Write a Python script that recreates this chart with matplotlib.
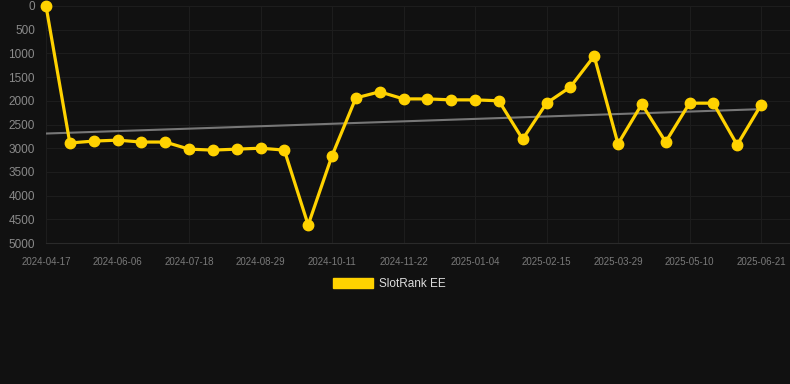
import numpy as np
import matplotlib
matplotlib.use("Agg")
from matplotlib import pyplot as plt
from matplotlib.patches import Patch

# rank values, one per snapshot (lower = better, axis inverted)
ranks = [0, 2890, 2850, 2830, 2870, 2870, 3020, 3040, 3020, 3000, 3040,
         4620, 3160, 1940, 1810, 1960, 1960, 1980, 1980, 2000, 2810,
         2050, 1710, 1055, 2910, 2070, 2870, 2050, 2050, 2930, 2090]
tick_labels = ["2024-04-17", "2024-06-06", "2024-07-18", "2024-08-29",
               "2024-10-11", "2024-11-22", "2025-01-04", "2025-02-15",
               "2025-03-29", "2025-05-10", "2025-06-21"]
series_name = "SlotRank EE"

bg = "#111111"
gold = "#FFD200"

plt.rcParams['font.family'] = ['Liberation Sans', 'DejaVu Sans']

x = np.arange(len(ranks))
fig = plt.figure(figsize=(7.9, 3.84), dpi=100, facecolor=bg)
ax = fig.add_axes([46 / 790, 1 - 243 / 384, 744 / 790, 237 / 384])
ax.set_facecolor(bg)

# trend line from a linear fit
k, b = np.polyfit(x, ranks, 1)
ax.plot(x, k * x + b, color="#777777", lw=1.5, zorder=2)

ax.plot(x, ranks, color=gold, lw=2.3, marker="o", markersize=7.5,
        clip_on=False, zorder=3)

ax.set_ylim(5000, 0)
ax.set_yticks(range(0, 5001, 500))
ax.set_xlim(0, 30 * 744 / 715)
ax.set_xticks(x[::3])
ax.set_xticklabels(tick_labels)

ax.grid(True, color="#1d1d1d", lw=0.8)
for s in ax.spines.values():
    s.set_visible(False)
ax.spines["bottom"].set_visible(True)
ax.spines["bottom"].set_color("#2a2a2a")
ax.tick_params(axis="y", length=0, pad=8, labelsize=8.5, labelcolor="#8a8a8a")
ax.tick_params(axis="x", length=0, pad=10, labelsize=7, labelcolor="#7a7a7a")

leg = fig.legend(handles=[Patch(facecolor=gold, edgecolor=gold)],
                 labels=[series_name], loc="center",
                 bbox_to_anchor=(0.5 - 6 / 790, 1 - 284 / 384), frameon=False,
                 fontsize=8.5, handlelength=3.4, handleheight=1.0,
                 handletextpad=0.5)
for t in leg.get_texts():
    t.set_color("#dddddd")

fig.savefig("out.png", facecolor=bg)
